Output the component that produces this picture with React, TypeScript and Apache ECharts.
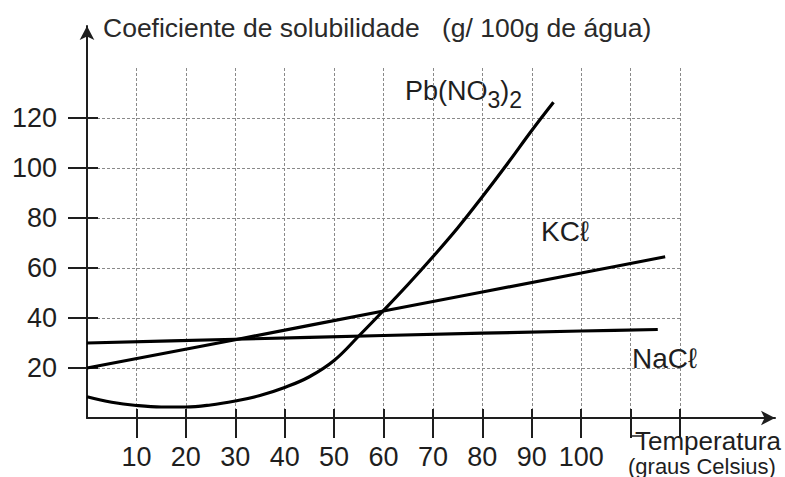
import React, { useEffect, useRef } from "react";
import * as echarts from "echarts";

// Temperature (°C) and solubility (g / 100 g water) readings
const pbTemp = [0, 5, 10, 15, 20, 25, 30, 35, 40, 45, 50, 55, 60, 65, 70, 75, 80, 85, 90, 94.4];
const pbSol = [8.5, 6.3, 5.0, 4.4, 4.4, 5.2, 6.8, 9.0, 12.2, 16.5, 23, 32.8, 43, 53.5, 64.5, 76, 88.5, 101.5, 115, 126.3];

const kclTemp = [0, 30, 60, 100, 117];
const kclSol = [20, 31.3, 42.8, 58, 64.5];

const naclTemp = [0, 30, 60, 100, 115.5];
const naclSol = [30, 31.5, 33, 34.8, 35.4];

const xTicks = [10, 20, 30, 40, 50, 60, 70, 80, 90, 100, 110, 120];
const xLabels = [10, 20, 30, 40, 50, 60, 70, 80, 90, 100];
const yTicks = [20, 40, 60, 80, 100, 120];

const FONT = "Liberation Sans, Arial, Helvetica, sans-serif";
const INK = "#1e1e1e";

const pairs = (xs: number[], ys: number[]) => xs.map((x, i) => [x, ys[i]]);

const txt = (text: string, size: number, x: number, y: number, fill = INK) => ({
  type: "text",
  x,
  y,
  style: { text, fontSize: size, lineHeight: size, fill, fontFamily: FONT, verticalAlign: "top", align: "left" },
});

export default function App() {
  const ref = useRef<HTMLDivElement>(null);

  useEffect(() => {
    if (!ref.current) return;
    const chart = echarts.init(ref.current, undefined, { renderer: "svg" });
    const split = { show: true, lineStyle: { color: "#8a8a8a", width: 1, type: [3, 2] as any } };
    const main = 27;
    const sub = 23;
    const wMain = main * (0.667 + 0.556 + 0.333 + 0.722 + 0.778);
    const wSub = sub * 0.556;
    const wParen = main * 0.333;
    const option: any = {
      animation: false,
      backgroundColor: "#ffffff",
      grid: [
        { left: 87, right: 105, top: 68, bottom: 59 },
        { left: 87, right: 10, top: 26, bottom: 59 },
      ],
      xAxis: [
        {
          type: "value", gridIndex: 0, position: "bottom", min: 0, max: 120, interval: 10,
          axisLine: { show: false },
          axisTick: { show: true, length: 20, customValues: xTicks, lineStyle: { color: INK, width: 2 } },
          axisLabel: { show: true, customValues: xLabels, margin: 25, fontSize: 27, color: INK, fontFamily: FONT },
          splitLine: split,
        },
        {
          type: "value", gridIndex: 0, position: "bottom", min: 0, max: 120, interval: 10,
          axisLine: { show: false },
          axisTick: { show: true, inside: true, length: 9, customValues: xTicks, lineStyle: { color: INK, width: 2 } },
          axisLabel: { show: false },
          splitLine: { show: false },
        },
        {
          type: "value", gridIndex: 1, position: "bottom", min: 0, max: 1,
          axisLine: { show: true, symbol: ["none", "arrow"], symbolSize: [11, 14], lineStyle: { color: INK, width: 2 } },
          axisTick: { show: false }, axisLabel: { show: false }, splitLine: { show: false },
        },
      ],
      yAxis: [
        {
          type: "value", gridIndex: 0, position: "left", min: 0, max: 140, interval: 20,
          axisLine: { show: false },
          axisTick: { show: true, length: 19, customValues: yTicks, lineStyle: { color: INK, width: 2 } },
          axisLabel: { show: true, customValues: yTicks, margin: 30, fontSize: 27, color: INK, fontFamily: FONT },
          splitLine: split,
        },
        {
          type: "value", gridIndex: 0, position: "left", min: 0, max: 140, interval: 20,
          axisLine: { show: false },
          axisTick: { show: true, inside: true, length: 11, customValues: yTicks, lineStyle: { color: INK, width: 2 } },
          axisLabel: { show: false },
          splitLine: { show: false },
        },
        {
          type: "value", gridIndex: 1, position: "left", min: 0, max: 1,
          axisLine: { show: true, symbol: ["none", "arrow"], symbolSize: [11, 14], lineStyle: { color: INK, width: 2 } },
          axisTick: { show: false }, axisLabel: { show: false }, splitLine: { show: false },
        },
      ],
      series: [
        {
          name: "Pb(NO3)2", type: "line", xAxisIndex: 0, yAxisIndex: 0,
          data: pairs(pbTemp, pbSol), smooth: 0.4, showSymbol: false,
          lineStyle: { color: "#000", width: 3.2 }, z: 5,
        },
        {
          name: "KCl", type: "line", xAxisIndex: 0, yAxisIndex: 0,
          data: pairs(kclTemp, kclSol), smooth: 0.3, showSymbol: false,
          lineStyle: { color: "#000", width: 3.2 }, z: 5,
        },
        {
          name: "NaCl", type: "line", xAxisIndex: 0, yAxisIndex: 0,
          data: pairs(naclTemp, naclSol), smooth: 0.3, showSymbol: false,
          lineStyle: { color: "#000", width: 3.2 }, z: 5,
        },
      ],
      graphic: [
        { ...txt("Coeficiente de solubilidade", 26.5, 103, 14.5, "#2a2a2a"), z: 10 },
        { ...txt("(g/ 100g de água)", 26.5, 442, 14.5, "#2a2a2a"), z: 10 },
        {
          type: "group", x: 405, y: 77, z: 10,
          children: [
            txt("Pb(NO", main, 0, 0),
            txt("3", sub, wMain, 11),
            txt(")", main, wMain + wSub, 0),
            txt("2", sub, wMain + wSub + wParen, 11),
          ],
        },
        { ...txt("KCℓ", 28, 541, 217), z: 10 },
        { ...txt("NaCℓ", 28, 632, 344), z: 10 },
        { ...txt("Temperatura", 26, 635, 428), z: 10 },
        { ...txt("(graus Celsius)", 22, 628, 455), z: 10 },
        {
          type: "polyline", z: 10,
          shape: { points: [[631, 418], [631, 436], [642, 436]] },
          style: { stroke: INK, lineWidth: 1.5, fill: "none" },
        },
      ],
    };
    chart.setOption(option);
    return () => chart.dispose();
  }, []);

  return (
    <div
      ref={ref}
      style={{ position: "fixed", left: 0, top: 0, width: 785, height: 477, background: "#fff" }}
    />
  );
}
